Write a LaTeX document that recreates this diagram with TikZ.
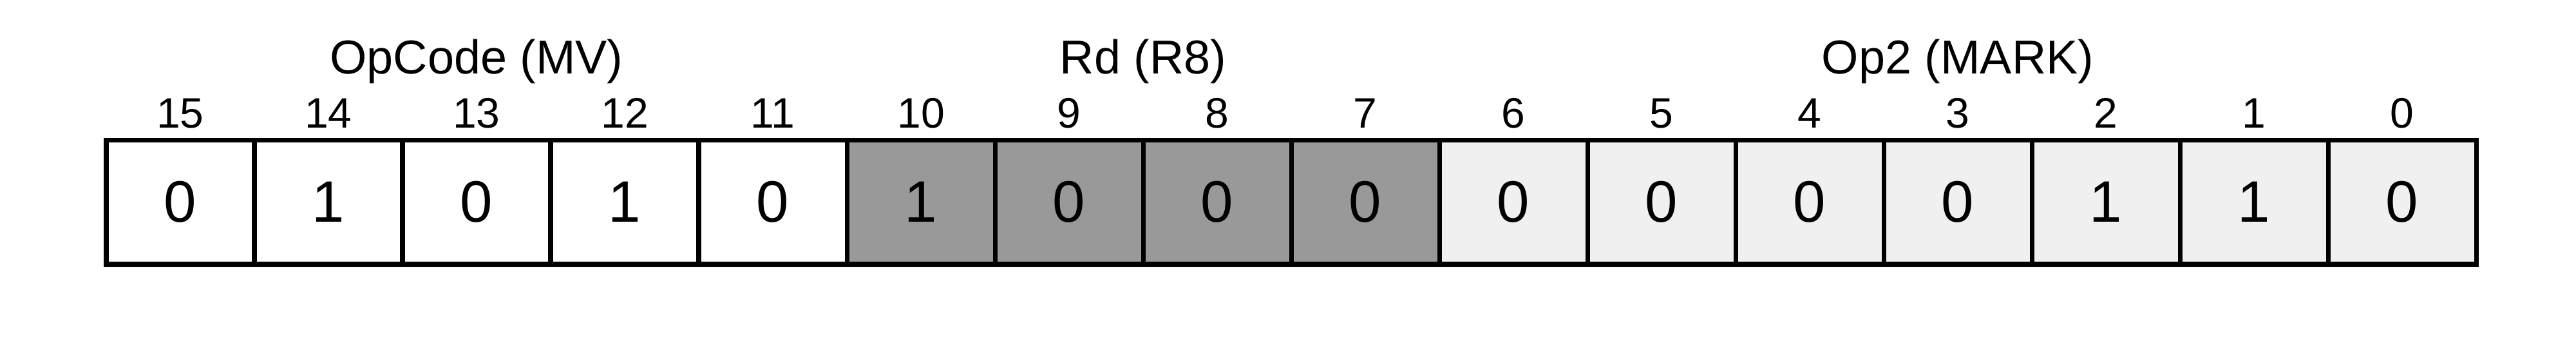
\documentclass[tikz,border=0pt]{standalone}
\usepackage{fontspec}
\setmainfont{Liberation Sans}
\usetikzlibrary{positioning, calc}

\begin{document}
\begin{tikzpicture}[x=1cm, y=1cm,
    bitcell/.style={draw=black, line width=2pt, minimum width=2.3cm, minimum height=1.925cm,
        inner sep=0pt, font=\fontsize{25.8}{30}\selectfont},
    bitnum/.style={anchor=base, font=\fontsize{18.8}{22}\selectfont},
    fieldname/.style={anchor=base, font=\fontsize{21}{25}\selectfont}]
\useasboundingbox (0,0) rectangle (40,5.26);
% Bit cells and bit positions
\foreach \b/\v/\c [count=\i from 0] in {15/0/white, 14/1/white, 13/0/white, 12/1/white, 11/0/white,
    10/1/black!40, 9/0/black!40, 8/0/black!40, 7/0/black!40,
    6/0/black!6, 5/0/black!6, 4/0/black!6, 3/0/black!6, 2/1/black!6, 1/1/black!6, 0/0/black!6} {
    \node[bitcell, fill=\c] (c\b) at ({2.8+2.3*\i}, 2.1225) {\v};
    \node[bitnum] (n\b) at ({2.8+2.3*\i}, 3.27) {\b};
}
% Field names
\node[fieldname] (opcode) at (7.4, 4.11) {OpCode (MV)};
\node[fieldname] (rd) at (17.75, 4.11) {Rd (R8)};
\node[fieldname] (optwo) at (30.4, 4.11) {Op2 (MARK)};
\end{tikzpicture}
\end{document}
